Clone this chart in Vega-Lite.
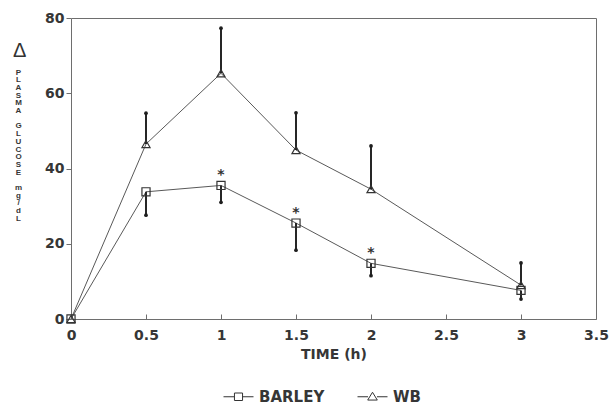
{
  "$schema": "https://vega.github.io/schema/vega-lite/v6.json",
  "autosize": {"type": "none"},
  "width": 525,
  "height": 301,
  "padding": {"left": 71, "top": 18, "right": 14, "bottom": 87},
  "background": "#ffffff",
  "title": {
    "text": "Δ",
    "anchor": "start",
    "frame": "group",
    "dx": -58,
    "dy": 54,
    "fontSize": 20,
    "font": "Liberation Sans",
    "fontWeight": "normal",
    "color": "#333333"
  },
  "config": {
    "view": {"stroke": "#6e6e6e", "strokeWidth": 1},
    "font": "DejaVu Sans",
    "axis": {
      "grid": false,
      "domain": false,
      "labelFont": "DejaVu Sans",
      "labelFontWeight": "bold",
      "labelFontSize": 14,
      "labelColor": "#363636",
      "tickColor": "#6e6e6e",
      "titleFont": "DejaVu Sans",
      "titleColor": "#363636"
    }
  },
  "data": {
    "values": [
      {"time": 0, "series": "BARLEY", "glucose": 0, "err_end": null, "sig": false},
      {"time": 0.5, "series": "BARLEY", "glucose": 33.8, "err_end": 27.6, "sig": false},
      {"time": 1, "series": "BARLEY", "glucose": 35.5, "err_end": 31.0, "sig": true},
      {"time": 1.5, "series": "BARLEY", "glucose": 25.5, "err_end": 18.3, "sig": true},
      {"time": 2, "series": "BARLEY", "glucose": 14.8, "err_end": 11.5, "sig": true},
      {"time": 3, "series": "BARLEY", "glucose": 7.6, "err_end": 5.3, "sig": false},
      {"time": 0, "series": "WB", "glucose": 0, "err_end": null, "sig": false},
      {"time": 0.5, "series": "WB", "glucose": 46.5, "err_end": 54.7, "sig": false},
      {"time": 1, "series": "WB", "glucose": 65.3, "err_end": 77.3, "sig": false},
      {"time": 1.5, "series": "WB", "glucose": 44.9, "err_end": 54.8, "sig": false},
      {"time": 2, "series": "WB", "glucose": 34.5, "err_end": 46.0, "sig": false},
      {"time": 3, "series": "WB", "glucose": 9.0, "err_end": 14.9, "sig": false}
    ]
  },
  "encoding": {
    "x": {
      "field": "time",
      "type": "quantitative",
      "scale": {"domain": [0, 3.5], "nice": false, "zero": false},
      "axis": {
        "values": [0, 0.5, 1, 1.5, 2, 2.5, 3, 3.5],
        "format": "~g",
        "tickSize": -5,
        "labelPadding": 14,
        "labelFlush": false,
        "title": "TIME (h)",
        "titleFontSize": 14,
        "titleFontWeight": "bold",
        "titlePadding": 5
      }
    },
    "y": {
      "field": "glucose",
      "type": "quantitative",
      "scale": {"domain": [0, 80], "nice": false},
      "axis": {
        "values": [0, 20, 40, 60, 80],
        "tickSize": 5,
        "labelPadding": 2,
        "title": ["P", "L", "A", "S", "M", "A", "\u200b", "G", "L", "U", "C", "O", "S", "E", "\u200b", "m", "g", "/", "d", "L"],
        "titleAngle": 0,
        "titleAlign": "center",
        "titleBaseline": "top",
        "titleX": -53,
        "titleY": 50,
        "titleFont": "Liberation Sans",
        "titleFontSize": 8,
        "titleFontWeight": "bold",
        "titleLineHeight": 7.7
      }
    }
  },
  "resolve": {"scale": {"shape": "independent"}},
  "layer": [
    {
      "mark": {"type": "line", "color": "#595959", "strokeWidth": 1},
      "encoding": {"detail": {"field": "series"}}
    },
    {
      "transform": [{"filter": "isValid(datum.err_end)"}],
      "mark": {"type": "rule", "color": "#262626", "strokeWidth": 2},
      "encoding": {"y2": {"field": "err_end"}}
    },
    {
      "transform": [{"filter": "isValid(datum.err_end)"}],
      "mark": {"type": "point", "filled": true, "color": "#1e1e1e", "size": 14, "opacity": 1},
      "encoding": {"y": {"field": "err_end", "type": "quantitative"}}
    },
    {
      "mark": {"type": "point", "filled": false, "color": "#333333", "strokeWidth": 1.2, "opacity": 1},
      "encoding": {
        "shape": {
          "field": "series",
          "type": "nominal",
          "scale": {"domain": ["BARLEY", "WB"], "range": ["square", "triangle-up"]},
          "legend": null
        },
        "size": {"value": 66}
      }
    },
    {
      "transform": [{"filter": "datum.time < 0"}],
      "mark": {"type": "point", "filled": false, "color": "#333333", "strokeWidth": 1, "opacity": 1},
      "encoding": {
        "shape": {
          "field": "series",
          "type": "nominal",
          "scale": {
            "domain": ["BARLEY", "WB"],
            "range": [
              "M-1,0H-0.27M0.27,0H1M-0.27,-0.25H0.27V0.25H-0.27Z",
              "M-1,0H-0.3M0.3,0H1M0,-0.3L0.32,0.22H-0.32Z"
            ]
          },
          "legend": {
            "title": null,
            "orient": "none",
            "direction": "horizontal",
            "legendX": 152,
            "legendY": 363,
            "symbolSize": 900,
            "symbolStrokeColor": "#333333",
            "symbolFillColor": "transparent",
            "symbolStrokeWidth": 1,
            "symbolOpacity": 1,
            "labelFont": "DejaVu Sans",
            "labelFontSize": 15,
            "labelFontWeight": "bold",
            "labelColor": "#363636",
            "labelOffset": 5,
            "columnPadding": 30
          }
        }
      }
    },
    {
      "transform": [{"filter": "datum.sig"}],
      "mark": {"type": "text", "text": "*", "fontSize": 14, "fontWeight": "bold", "color": "#333333", "baseline": "middle", "dy": -10},
      "encoding": {}
    }
  ]
}
